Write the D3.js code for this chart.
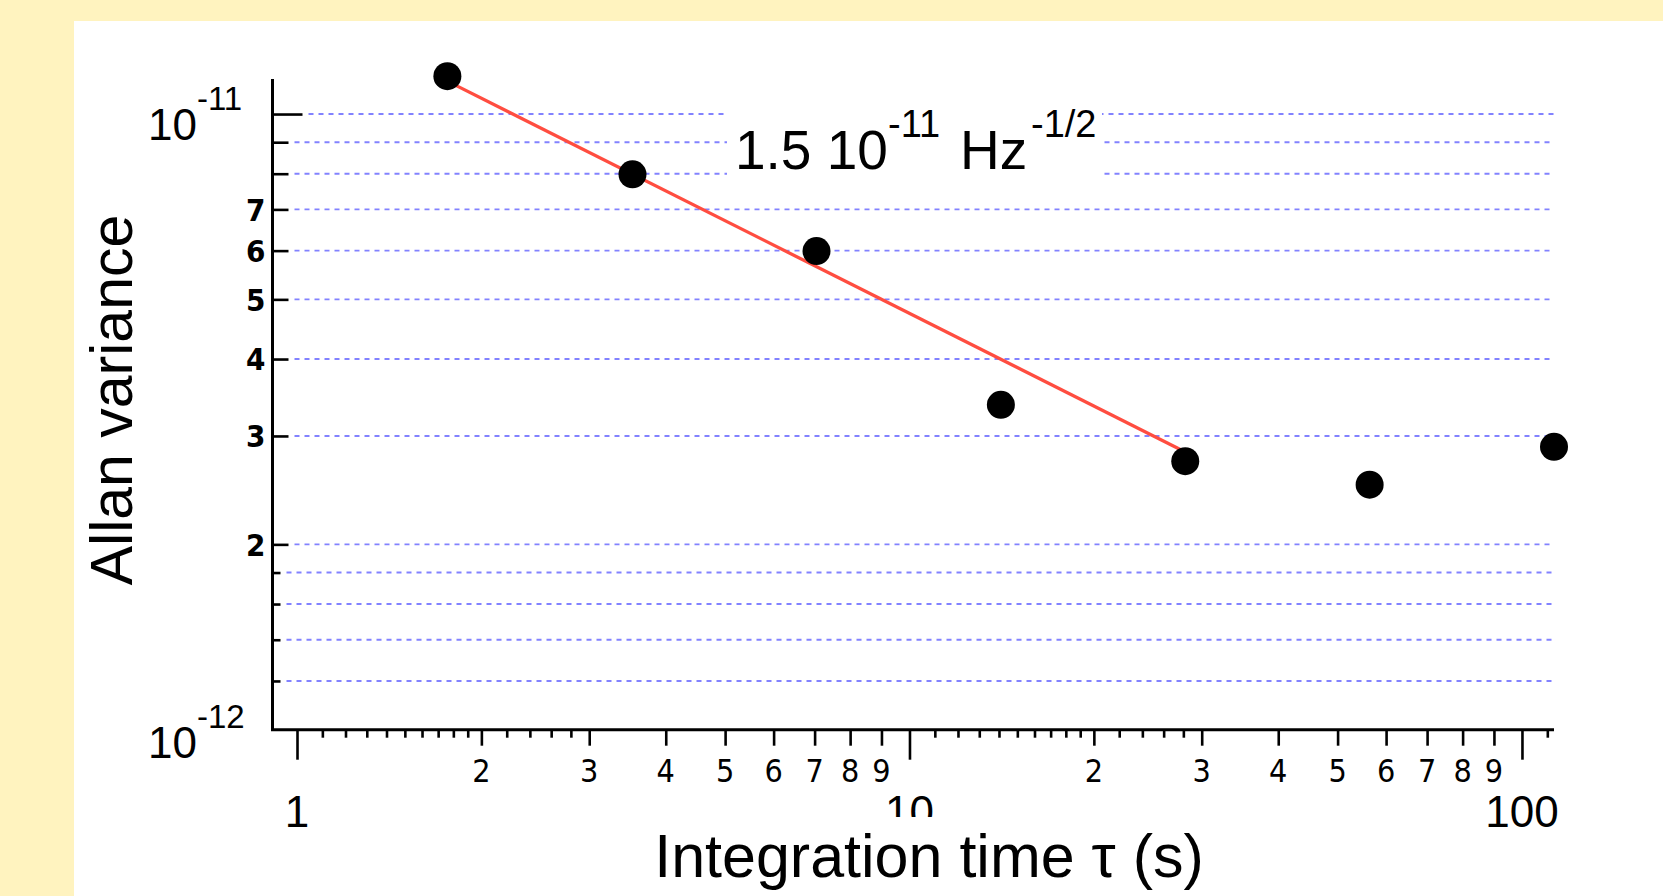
<!DOCTYPE html>
<html>
<head>
<meta charset="utf-8">
<script src="https://cdn.jsdelivr.net/npm/d3@7/dist/d3.min.js"></script>
<style>
  html, body { margin: 0; padding: 0; background: #fff3bf; }
  svg { display: block; }
</style>
</head>
<body>
<div id="chart"></div>
<script>
// ---- Data ----
const tauValues = [1.76, 3.53, 7.05, 14.1, 28.2, 56.4, 112.8];          // integration time (s)
const allanValues = [1.152e-11, 7.98e-12, 5.99e-12, 3.37e-12, 2.73e-12, 2.50e-12, 2.88e-12];

// fitted white-noise line, 1.5e-11 Hz^-1/2
const fitTau = [1.76, 28.2];
const fitValues = [1.131e-11, 2.825e-12];

// ---- Tick values ----
const xMajorTicks = [1, 10, 100];
const xMidTicks = [2, 3, 4, 5, 6, 7, 8, 9, 20, 30, 40, 50, 60, 70, 80, 90];
const xMinorTicks = [1.1, 1.2, 1.3, 1.4, 1.5, 1.6, 1.7, 1.8, 1.9, 2.2, 2.4, 2.6, 2.8,
                     11, 12, 13, 14, 15, 16, 17, 18, 19, 22, 24, 26, 28, 110];
const xMidLabels = ['2', '3', '4', '5', '6', '7', '8', '9', '2', '3', '4', '5', '6', '7', '8', '9'];
const xMajorLabels = ['1', '10', '100'];

const yMajorTicks = [1e-11];
const yMidTicks = [2e-12, 3e-12, 4e-12, 5e-12, 6e-12, 7e-12, 8e-12, 9e-12];
const yMinorTicks = [1.2e-12, 1.4e-12, 1.6e-12, 1.8e-12];
const yLabelTicks = [2e-12, 3e-12, 4e-12, 5e-12, 6e-12, 7e-12];
const yLabels = ['2', '3', '4', '5', '6', '7'];

const W = 1663, H = 896;
const narrow = '"Liberation Sans Narrow", "DejaVu Sans Condensed", sans-serif';
const sans = '"Liberation Sans", Arial, sans-serif';

// ---- Scales ----
const x = d3.scaleLog().domain([0.912, 112.8]).range([272.5, 1554]);
const y = d3.scaleLog().domain([1e-12, 1.14e-11]).range([729.7, 79]);

const svg = d3.select('#chart').append('svg')
  .attr('width', W).attr('height', H)
  .attr('viewBox', [0, 0, W, H]);

// background
svg.append('rect').attr('width', W).attr('height', H).attr('fill', '#fff3bf');
svg.append('rect').attr('x', 74).attr('y', 21).attr('width', W - 74).attr('height', H - 21).attr('fill', '#ffffff');

// ---- Grid lines ----
const gridG = svg.append('g').attr('class', 'grid');
const gridTicks = [].concat(yMinorTicks, yMidTicks, yMajorTicks);
function tickLen(v) {
  if (yMajorTicks.includes(v)) return 30;
  if (yMidTicks.includes(v)) return 16;
  return 8;
}
gridG.selectAll('line')
  .data(gridTicks)
  .join('line')
  .attr('x1', d => x.range()[0] + tickLen(d) + 6)
  .attr('x2', x.range()[1])
  .attr('y1', d => y(d)).attr('y2', d => y(d))
  .attr('stroke', '#8282ff')
  .attr('stroke-width', 1.9)
  .attr('stroke-dasharray', '5,5');

// ---- Axes ----
function styleAxis(g) {
  g.select('.domain').remove();
  g.selectAll('line').attr('stroke', '#000').attr('stroke-width', 2.6);
  g.selectAll('text').remove();
}
const xAxisG = svg.append('g').attr('transform', `translate(0,${y.range()[0]})`);
xAxisG.append('g').call(d3.axisBottom(x).tickValues(xMinorTicks).tickSize(8)).call(styleAxis);
xAxisG.append('g').call(d3.axisBottom(x).tickValues(xMidTicks).tickSize(16)).call(styleAxis);
xAxisG.append('g').call(d3.axisBottom(x).tickValues(xMajorTicks).tickSize(30)).call(styleAxis);

const yAxisG = svg.append('g').attr('transform', `translate(${x.range()[0]},0)`);
yAxisG.append('g').call(d3.axisRight(y).tickValues(yMinorTicks).tickSize(8)).call(styleAxis);
yAxisG.append('g').call(d3.axisRight(y).tickValues(yMidTicks).tickSize(16)).call(styleAxis);
yAxisG.append('g').call(d3.axisRight(y).tickValues(yMajorTicks).tickSize(30)).call(styleAxis);

// axis lines
svg.append('path')
  .attr('d', `M${x.range()[0]},${y.range()[1]}V${y.range()[0]}H${x.range()[1]}`)
  .attr('fill', 'none')
  .attr('stroke', '#000')
  .attr('stroke-width', 3);

// ---- Tick labels ----
svg.append('g').selectAll('text')
  .data(xMidTicks)
  .join('text')
  .attr('x', d => x(d))
  .attr('y', 782)
  .attr('text-anchor', 'middle')
  .attr('font-family', narrow)
  .attr('font-size', 32)
  .attr('fill', '#000')
  .text((d, i) => xMidLabels[i]);

svg.append('g').selectAll('text')
  .data(xMajorTicks)
  .join('text')
  .attr('x', d => x(d))
  .attr('y', 827)
  .attr('text-anchor', 'middle')
  .attr('font-family', sans)
  .attr('font-size', 44)
  .attr('fill', '#000')
  .text((d, i) => xMajorLabels[i]);

svg.append('g').selectAll('text')
  .data(yLabelTicks)
  .join('text')
  .attr('x', x.range()[0] - 7)
  .attr('y', d => y(d))
  .attr('dy', '0.36em')
  .attr('text-anchor', 'end')
  .attr('font-family', narrow)
  .attr('font-weight', 'bold')
  .attr('font-size', 31)
  .attr('fill', '#000')
  .text((d, i) => yLabels[i]);

// decade labels 10^-11 and 10^-12
const decades = [{ v: 1e-11, exp: '-11', dy: 26 }, { v: 1e-12, exp: '-12', dy: 28 }];
decades.forEach(d => {
  const t = svg.append('text')
    .attr('x', 148)
    .attr('y', y(d.v) + d.dy)
    .attr('font-family', sans)
    .attr('font-size', 44)
    .attr('fill', '#000');
  t.append('tspan').text('10');
  t.append('tspan')
    .attr('font-size', 33)
    .attr('dy', -30)
    .text(d.exp);
});

// ---- Fit line ----
const line = d3.line()
  .x(d => x(d[0]))
  .y(d => y(d[1]));
svg.append('path')
  .datum(fitTau.map((t, i) => [t, fitValues[i]]))
  .attr('d', line)
  .attr('fill', 'none')
  .attr('stroke', '#ff4d40')
  .attr('stroke-width', 3.3);

// ---- Data points ----
svg.append('g').selectAll('circle')
  .data(tauValues.map((t, i) => [t, allanValues[i]]))
  .join('circle')
  .attr('cx', d => x(d[0]))
  .attr('cy', d => y(d[1]))
  .attr('r', 14)
  .attr('fill', '#000');

// ---- Annotation ----
svg.append('rect')
  .attr('x', 727).attr('y', 100)
  .attr('width', 375).attr('height', 88)
  .attr('fill', '#ffffff');
const ann = svg.append('text')
  .attr('y', 169)
  .attr('font-family', sans)
  .attr('font-size', 55)
  .attr('fill', '#000');
ann.append('tspan').attr('x', 735).text('1.5 10');
ann.append('tspan').attr('x', 888).attr('y', 137).attr('font-size', 38).text('-11');
ann.append('tspan').attr('x', 960).attr('y', 169).text('Hz');
ann.append('tspan').attr('x', 1031).attr('y', 137).attr('font-size', 38).text('-1/2');

// ---- Axis titles ----
svg.append('rect')
  .attr('x', 640).attr('y', 817)
  .attr('width', 580).attr('height', H - 817)
  .attr('fill', '#ffffff');
svg.append('text')
  .attr('x', 929)
  .attr('y', 877)
  .attr('text-anchor', 'middle')
  .attr('font-family', sans)
  .attr('font-size', 61)
  .attr('fill', '#000')
  .text('Integration time τ (s)');

svg.append('text')
  .attr('transform', 'translate(132,400) rotate(-90)')
  .attr('text-anchor', 'middle')
  .attr('font-family', sans)
  .attr('font-size', 59)
  .attr('fill', '#000')
  .text('Allan variance');
</script>
</body>
</html>
